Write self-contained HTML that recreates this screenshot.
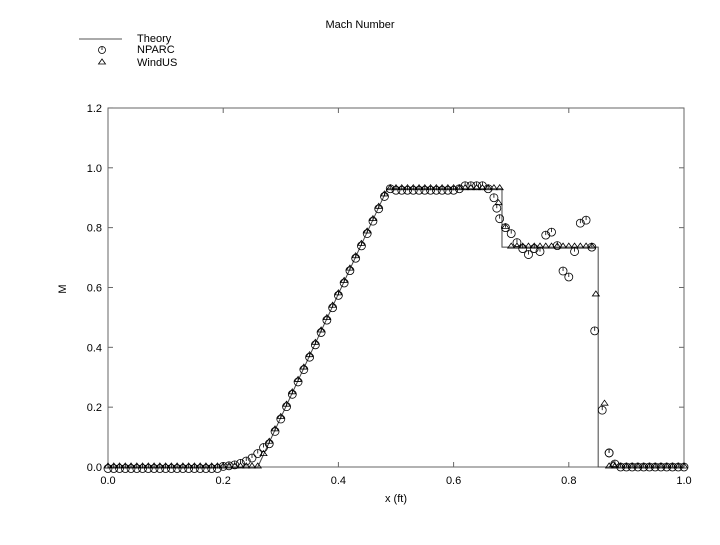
<!DOCTYPE html>
<html><head><meta charset="utf-8"><style>
body{margin:0;background:#fff}
svg text{font-family:"Liberation Sans",sans-serif;font-size:11px;fill:#000}
</style></head><body>
<svg id="s" width="720" height="540" xmlns="http://www.w3.org/2000/svg">
<rect width="720" height="540" fill="#fff"/>
<text x="360" y="28" text-anchor="middle" font-size="12">Mach Number</text>
<line x1="79" y1="39" x2="122" y2="39" stroke="#555"/>
<text x="137" y="42" font-size="10">Theory</text>
<text x="137" y="53" font-size="10">NPARC</text>
<text x="137" y="66" font-size="10">WindUS</text>
<circle cx="102" cy="50" r="3.5" fill="none" stroke="#000" stroke-width="0.8"/>
<line x1="102" y1="46.5" x2="102" y2="50" stroke="#000" stroke-width="0.8"/>
<polygon points="102,59 98.5,64 105.5,64" fill="none" stroke="#000" stroke-width="0.8"/>
<rect x="108" y="108" width="576" height="359" fill="none" stroke="#666"/>
<g id="ax"></g>
<text x="396" y="502" text-anchor="middle">x (ft)</text>
<text x="68" y="291" text-anchor="middle" transform="rotate(-90 66 291)">M</text>
<g id="d"></g>
</svg>
<script>
var ns="http://www.w3.org/2000/svg";
function X(x){return 108+x*576}function Y(y){return 467-y*299.2}
function el(t,a,p){var e=document.createElementNS(ns,t);for(var k in a)e.setAttribute(k,a[k]);(p||document.getElementById('d')).appendChild(e);return e}
var ax=document.getElementById('ax');
for(var i=0;i<=6;i++){var y=Y(i*0.2);el('line',{x1:108,y1:y,x2:113,y2:y,stroke:'#666'},ax);el('line',{x1:679,y1:y,x2:684,y2:y,stroke:'#666'},ax);
var t=el('text',{x:102,y:y+4,'text-anchor':'end'},ax);t.textContent=(i*0.2).toFixed(1);}
for(var i=0;i<=5;i++){var x=X(i*0.2);el('line',{x1:x,y1:467,x2:x,y2:462,stroke:'#666'},ax);el('line',{x1:x,y1:108,x2:x,y2:113,stroke:'#666'},ax);
var t=el('text',{x:x,y:484,'text-anchor':'middle'},ax);t.textContent=(i*0.2).toFixed(1);}
function th(x){if(x<0.26)return 0;if(x<0.485)return (x-0.26)/0.225*0.93;if(x<0.684)return 0.93;if(x<0.851)return 0.735;return 0}
el('polyline',{points:[[0,0],[0.26,0],[0.485,0.93],[0.684,0.93],[0.684,0.735],[0.851,0.735],[0.851,0],[1,0]].map(function(p){return X(p[0])+','+Y(p[1])}).join(' '),fill:'none',stroke:'#444','stroke-width':1});
function circ(x,y){var cx=X(x),cy=Y(y);el('circle',{cx:cx,cy:cy,r:4,fill:'none',stroke:'#000','stroke-width':0.8});el('line',{x1:cx,y1:cy-4,x2:cx,y2:cy,stroke:'#000','stroke-width':0.8})}
function tri(x,y){var cx=X(x),cy=Y(y);el('polygon',{points:cx+','+(cy-4)+' '+(cx-3.5)+','+(cy+1)+' '+(cx+3.5)+','+(cy+1),fill:'none',stroke:'#000','stroke-width':0.8})}
var nx={0.67:0.90,0.675:0.865,0.68:0.83,0.69:0.80,0.70:0.78,0.71:0.75,0.72:0.73,0.73:0.71,0.74:0.73,0.75:0.72,0.76:0.775,0.77:0.785,0.78:0.74,0.79:0.655,0.80:0.635,0.81:0.72,0.82:0.815,0.83:0.825,0.845:0.455,0.858:0.19,0.87:0.047,0.88:0.01};
var bump={0.2:0.002,0.21:0.004,0.22:0.007,0.23:0.012,0.24:0.02,0.25:0.03,0.26:0.045,0.27:0.065};
for(var x=0;x<=1.0001;x+=0.01){x=Math.round(x*1000)/1000;
 if(Math.abs(x-0.85)<0.003||Math.abs(x-0.86)<0.003)continue;
 var wy=th(x);if(x>0.684&&x<0.70)wy=0.8;
 tri(x,wy);
 var ny;if(nx[x]!==undefined)ny=nx[x];else if(x>=0.66&&x<0.89)ny=th(x);else if(bump[x]!==undefined)ny=Math.max(th(x),bump[x]);else if(x<0.49)ny=th(x)-0.005;else if(x>0.61&&x<0.66)ny=0.94;else if(x>0.49&&x<0.61)ny=0.925;else ny=th(x);
 if(x>0.88)ny=0;
 circ(x,ny);}
[0.845,0.858,0.87,0.675].forEach(function(x){circ(x,nx[x])});
tri(0.847,0.575);tri(0.862,0.21);tri(0.877,0.005);tri(0.678,0.88);
</script>
</body></html>
